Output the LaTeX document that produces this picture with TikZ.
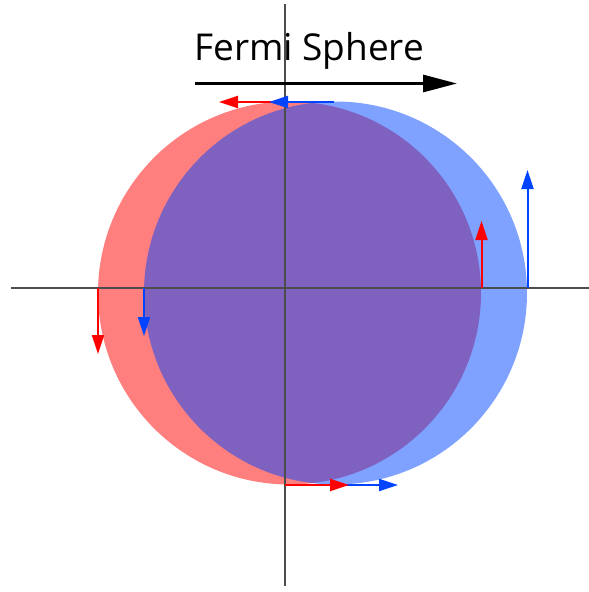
\documentclass[tikz,border=0pt]{standalone}
\usepackage{fontspec}
\setsansfont{Open Sans}
\usetikzlibrary{arrows.meta}
\definecolor{upred}{RGB}{255,0,0}
\definecolor{downblue}{RGB}{0,68,255}

\begin{document}
\begin{tikzpicture}[x=1pt,y=-1pt,inner sep=0pt,
  spin/.style={line width=2pt,-{Triangle[length=19pt,width=12pt]}}]
\def\r{191.5}
\useasboundingbox (0,0) rectangle (589,592);
\coordinate (cr) at (289.5,293);
\coordinate (cb) at (335.5,293);
\fill[upred,fill opacity=0.5] (cr) circle (\r);
\fill[downblue,fill opacity=0.5] (cb) circle (\r);

% axes
\coordinate (xl) at (11,288);
\coordinate (xr) at (589,288);
\coordinate (yt) at (285,4);
\coordinate (yb) at (285,586);
\draw[line width=1.2pt,black!70] (xl) -- (xr);
\draw[line width=1.2pt,black!70] (yt) -- (yb);

\node[font=\sffamily\fontsize{37}{40}\selectfont,anchor=base west] (title) at (194,60) {Fermi Sphere};
\coordinate (ks) at (195,83.5);
\coordinate (ke) at (457,83.5);
\draw[line width=3pt,-{Triangle[length=34pt,width=17pt]}] (ks) -- (ke);

% spins on the top
\coordinate (tr0) at (285,102);  \coordinate (tr1) at (219,102);
\coordinate (tb0) at (334,102);  \coordinate (tb1) at (269,102);
\draw[spin,upred] (tr0) -- (tr1);
\draw[spin,downblue] (tb0) -- (tb1);
% spins on the bottom
\coordinate (br0) at (285,485);  \coordinate (br1) at (349,485);
\coordinate (bb0) at (334,485);  \coordinate (bb1) at (398,485);
\draw[spin,downblue] (bb0) -- (bb1);
\draw[spin,upred] (br0) -- (br1);
% spins on the left
\coordinate (lr0) at (98,288);   \coordinate (lr1) at (98,354);
\coordinate (lb0) at (144,288);  \coordinate (lb1) at (144,336);
\draw[spin,upred] (lr0) -- (lr1);
\draw[spin,downblue] (lb0) -- (lb1);
% spins on the right
\coordinate (rr0) at (481.5,288); \coordinate (rr1) at (481.5,221);
\coordinate (rb0) at (527.5,288); \coordinate (rb1) at (527.5,170);
\draw[spin,upred] (rr0) -- (rr1);
\draw[spin,downblue] (rb0) -- (rb1);
\end{tikzpicture}
\end{document}
